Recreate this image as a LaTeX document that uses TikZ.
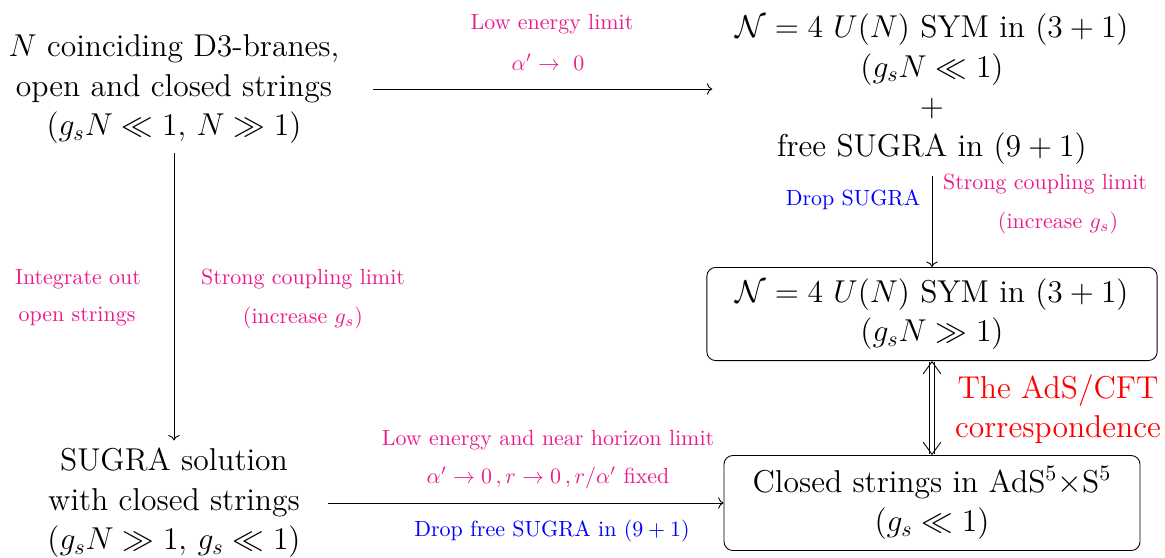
\documentclass[tikz,border=0pt]{standalone}
\usepackage{amsmath, amssymb}
\usepackage{tikz}
\usetikzlibrary{arrows.meta, positioning}
\definecolor{lblpink}{HTML}{EC1A8C}
\definecolor{lblblue}{HTML}{0000FF}
\definecolor{adsred}{HTML}{FF0000}

\begin{document}
\begin{tikzpicture}[>=To, x=0.016cm, y=-0.016cm,
    txt/.style={align=center, font=\Large},
    box/.style={txt, draw, rounded corners=4pt, inner xsep=13pt, inner ysep=5pt},
    lbl/.style={lblpink, font=\normalsize},
    drop/.style={lblblue, font=\normalsize}]
  \useasboundingbox (0,0) rectangle (1165,557);
  \node[txt] (branes) at (174,89) {$N$ coinciding D3-branes,\\ open and closed strings\\ $(g_sN\ll 1,\, N\gg 1)$};
  \node[txt] (sym) at (932,89) {$\mathcal{N}=4$ $U(N)$ SYM in $(3+1)$\\ $(g_sN\ll 1)$\\ $+$\\ free SUGRA in $(9+1)$};
  \node[box] (symstrong) at (932,314) {$\mathcal{N}=4$ $U(N)$ SYM in $(3+1)$\\ $(g_sN\gg 1)$};
  \node[box] (ads) at (932,503) {Closed strings in AdS$^5{\times}$S$^5$\\ $(g_s\ll 1)$};
  \node[txt] (sugra) at (174,503) {SUGRA solution\\ with closed strings\\ $(g_sN\gg 1,\, g_s\ll 1)$};

  \draw[->, shorten <=12pt, shorten >=7pt] (branes.east) -- (branes.east -| sym.west);
  \draw[->, shorten <=1pt] (branes) -- (sugra);
  \draw[->, shorten <=2pt] (sym) -- (symstrong);
  \draw[{Straight Barb[length=5.5pt,width=8pt]}-{Straight Barb[length=5.5pt,width=8pt]}, double, double distance=2.2pt] (symstrong) -- (ads);
  \draw[->, shorten <=9pt] (sugra.east) -- (ads.west);

  \node[lbl] (lowe) at (552,24) {Low energy limit};
  \node[lbl] (alpha) at (548,62) {$\alpha'\rightarrow\ 0$};
  \node[lbl] (integ) at (78,279) {Integrate out};
  \node[lbl] (openst) at (77,317) {open strings};
  \node[lbl] (strongl) at (303,279) {Strong coupling limit};
  \node[lbl] (incrl) at (303,318) {(increase $g_s$)};
  \node[drop] (dropsg) at (853,200) {Drop SUGRA};
  \node[lbl] (strongr) at (1045,184) {Strong coupling limit};
  \node[lbl] (incrr) at (1058,223) {(increase $g_s$)};
  \node[lbl] (nearh) at (548,440) {Low energy and near horizon limit};
  \node[lbl] (limits) at (548,478) {$\alpha'\rightarrow 0\,, r\rightarrow 0\,, r/\alpha'$ fixed};
  \node[drop] (dropfree) at (552,531) {Drop free SUGRA in $(9+1)$};
  \node[txt, adsred] (corr) at (1058,409) {The AdS/CFT\\ correspondence};
\end{tikzpicture}
\end{document}
